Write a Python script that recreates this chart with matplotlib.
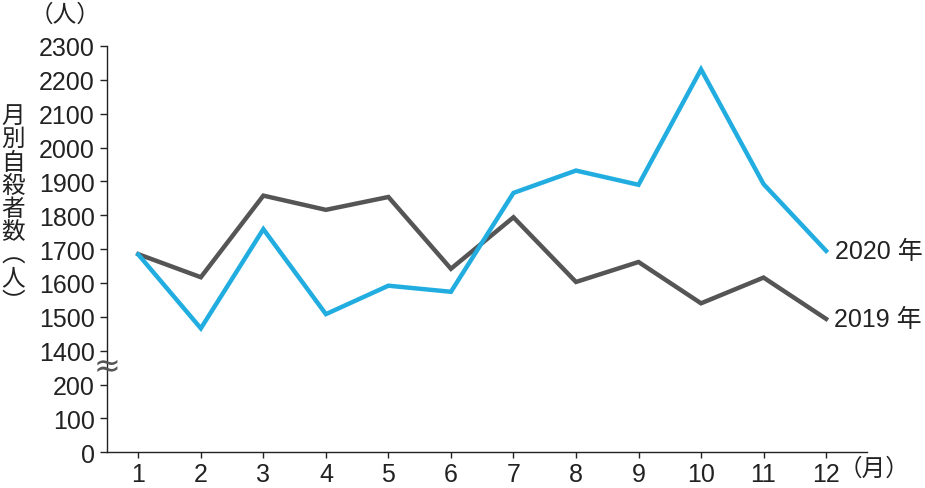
import matplotlib
matplotlib.use("Agg")
import matplotlib.pyplot as plt

plt.rcParams['font.family'] = ['Liberation Sans', 'Noto Sans CJK JP', 'DejaVu Sans']

# data (persons per month)
months = [1, 2, 3, 4, 5, 6, 7, 8, 9, 10, 11, 12]
y2019 = [1685, 1617, 1858, 1816, 1854, 1642, 1794, 1603, 1662, 1540, 1616, 1494]
y2020 = [1684, 1466, 1759, 1508, 1592, 1574, 1866, 1932, 1890, 2231, 1892, 1695]
lower_ticks = [0, 100, 200]
upper_ticks = [1400, 1500, 1600, 1700, 1800, 1900, 2000, 2100, 2200, 2300]

# broken axis: values from 1400 up are drawn shifted down by 1100
shift = 1100

fig = plt.figure(figsize=(9.25, 4.89), dpi=100)
ax = fig.add_axes([0.116, 0.073, 0.821, 0.831])

gray = '#555555'
blue = '#22ADE0'
ax.plot(months, [v - shift for v in y2019], color=gray, lw=3.2, solid_joinstyle='miter', zorder=3)
ax.plot(months, [v - shift for v in y2020], color=blue, lw=3.2, solid_joinstyle='miter', zorder=4)

ax.set_xlim(0.504, 12.65)
ax.set_ylim(0, 2300 - shift)

yt = lower_ticks + [v - shift for v in upper_ticks]
ax.set_yticks(yt)
ax.set_yticklabels([str(v) for v in lower_ticks + upper_ticks])
ax.set_xticks(months)
ax.set_xticklabels([str(m) for m in months])

for s in ['top', 'right']:
    ax.spines[s].set_visible(False)
for s in ['left', 'bottom']:
    ax.spines[s].set_linewidth(1.0)
    ax.spines[s].set_color('#222222')

ax.tick_params(axis='y', direction='out', length=5, width=1, pad=4,
               labelsize=18, colors='#222222')
ax.tick_params(axis='x', direction='out', length=4, width=1, pad=3,
               labelsize=18, colors='#222222')

# break mark on y axis
ax.text(0.504, 252, '≈', ha='center', va='center', fontsize=23,
        color='#555555', clip_on=False, zorder=5, family=['DejaVu Sans'])

# series labels
ax.text(12.15, y2020[-1] - shift, '2020 年', ha='left', va='center',
        fontsize=18, color='#222222')
ax.text(12.12, y2019[-1] - shift, '2019 年', ha='left', va='center',
        fontsize=18, color='#222222')

# unit labels
fig.text(65 / 925, 1 - 15 / 489, '（人）', ha='center', va='center',
         fontsize=17, color='#222222')
fig.text(874 / 925, 1 - 470 / 489, '（月）', ha='center', va='center',
         fontsize=17, color='#222222')

# vertical y label
fig.text(13 / 925, 1 - 210 / 489, '\n'.join('月別自殺者数︵人︶'),
         ha='center', va='center', fontsize=17, linespacing=1.07,
         color='#222222')

fig.savefig('out.png', dpi=100)
